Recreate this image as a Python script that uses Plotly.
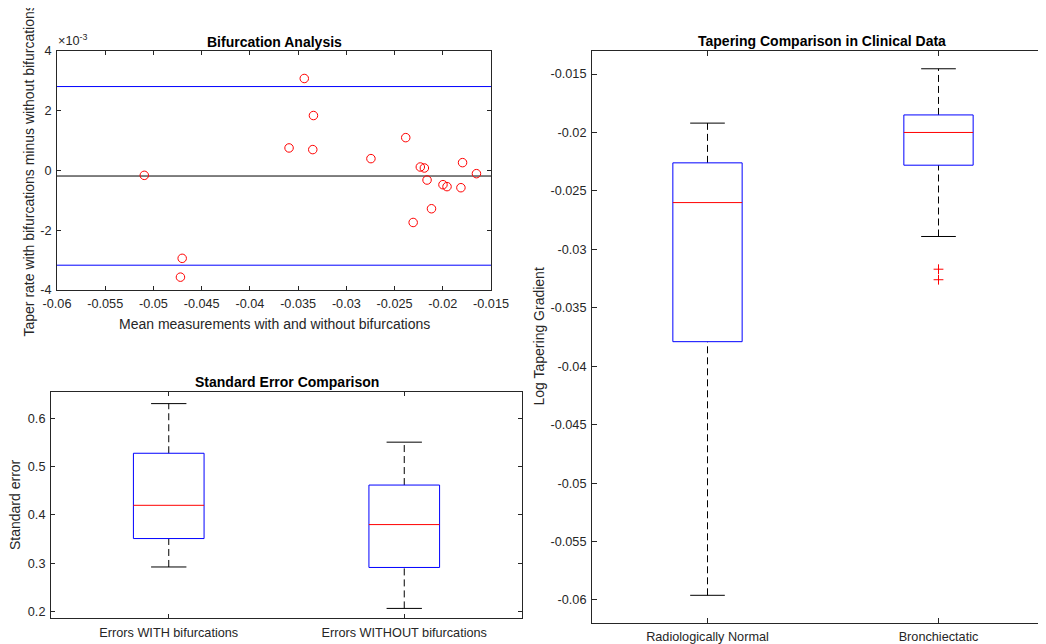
import plotly.graph_objects as go

# ---------------- data ----------------
# Bifurcation analysis (Bland-Altman style)
bif_mean = [-0.05095, -0.04702, -0.04720, -0.03594, -0.03436, -0.03341, -0.03348,
            -0.02745, -0.02384, -0.02233, -0.02191, -0.02163, -0.02307, -0.02117,
            -0.01998, -0.01956, -0.01812, -0.01795, -0.01651]
bif_diff = [-0.000162, -0.00294, -0.00357, 0.000755, 0.00308, 0.00184, 0.00070,
            0.000397, 0.00110, 0.000117, 0.000084, -0.000319, -0.00174, -0.00128,
            -0.000475, -0.00054, -0.000576, 0.000263, -0.000106]
mean_diff = -0.000185
upper_loa = 0.00281
lower_loa = -0.00317
bif_x_range = [-0.06, -0.015]
bif_y_range = [-0.004, 0.004]
bif_xtick_vals = [-0.06, -0.055, -0.05, -0.045, -0.04, -0.035, -0.03, -0.025, -0.02, -0.015]
bif_xtick_text = ["-0.06", "-0.055", "-0.05", "-0.045", "-0.04", "-0.035", "-0.03", "-0.025", "-0.02", "-0.015"]
bif_ytick_vals = [-0.004, -0.002, 0, 0.002, 0.004]
bif_ytick_text = ["-4", "-2", "0", "2", "4"]

# Standard error comparison (box plot stats)
se_categories = ["Errors WITH bifurcations", "Errors WITHOUT bifurcations"]
se_upper_whisker = [0.631, 0.551]
se_q3 = [0.528, 0.462]
se_median = [0.420, 0.380]
se_q1 = [0.351, 0.291]
se_lower_whisker = [0.292, 0.206]
se_ytick_vals = [0.2, 0.3, 0.4, 0.5, 0.6]
se_ytick_text = ["0.2", "0.3", "0.4", "0.5", "0.6"]

# Tapering comparison (box plot stats)
taper_categories = ["Radiologically Normal", "Bronchiectatic"]
taper_upper_whisker = [-0.0192, -0.01455]
taper_q3 = [-0.0226, -0.0185]
taper_median = [-0.0260, -0.0200]
taper_q1 = [-0.0379, -0.0228]
taper_lower_whisker = [-0.0596, -0.0289]
taper_outlier_group = [2, 2]
taper_outliers = [-0.0317, -0.0326]
taper_ytick_vals = [-0.06, -0.055, -0.05, -0.045, -0.04, -0.035, -0.03, -0.025, -0.02, -0.015]
taper_ytick_text = ["-0.06", "-0.055", "-0.05", "-0.045", "-0.04", "-0.035", "-0.03", "-0.025", "-0.02", "-0.015"]

# ---------------- layout helpers ----------------
PAGE_W, PAGE_H = 1046, 644
OFF = 8  # default page body margin
W, H = PAGE_W - OFF, PAGE_H - OFF
FONT = "Liberation Sans, Arial, Helvetica, sans-serif"
AX = "#262626"
TICK_FS = 12.7
LABEL_FS = 14
TITLE_FS = 14

def fx(p):
    return (p - OFF) / W

def fy(p):
    return 1 - (p - OFF) / H

fig = go.Figure()

# ---- subplot 1: scatter ----
fig.add_trace(go.Scatter(x=bif_x_range, y=[upper_loa, upper_loa], mode="lines",
                         line=dict(color="#0000FF", width=1), xaxis="x", yaxis="y", showlegend=False))
fig.add_trace(go.Scatter(x=bif_x_range, y=[lower_loa, lower_loa], mode="lines",
                         line=dict(color="#0000FF", width=1), xaxis="x", yaxis="y", showlegend=False))
fig.add_trace(go.Scatter(x=bif_x_range, y=[mean_diff, mean_diff], mode="lines",
                         line=dict(color="#000000", width=1), xaxis="x", yaxis="y", showlegend=False))
fig.add_trace(go.Scatter(x=bif_mean, y=bif_diff, mode="markers",
                         marker=dict(symbol="circle-open", size=8.5, color="#FF0000",
                                     line=dict(width=1, color="#FF0000")),
                         xaxis="x", yaxis="y", showlegend=False))

# ---- box drawing ----
BOX_HW = 0.15
CAP_HW = 0.075

def add_boxes(lower, q1, med, q3, upper, xa, ya):
    for i in range(len(med)):
        p = i + 1
        # whiskers (dashed)
        fig.add_trace(go.Scatter(x=[p, p], y=[q3[i], upper[i]], mode="lines",
                                 line=dict(color="#000000", width=1, dash="7px,4px"),
                                 xaxis=xa, yaxis=ya, showlegend=False))
        fig.add_trace(go.Scatter(x=[p, p], y=[lower[i], q1[i]], mode="lines",
                                 line=dict(color="#000000", width=1, dash="7px,4px"),
                                 xaxis=xa, yaxis=ya, showlegend=False))
        # caps
        fig.add_trace(go.Scatter(x=[p - CAP_HW, p + CAP_HW], y=[upper[i], upper[i]], mode="lines",
                                 line=dict(color="#000000", width=1),
                                 xaxis=xa, yaxis=ya, showlegend=False))
        fig.add_trace(go.Scatter(x=[p - CAP_HW, p + CAP_HW], y=[lower[i], lower[i]], mode="lines",
                                 line=dict(color="#000000", width=1),
                                 xaxis=xa, yaxis=ya, showlegend=False))
        # box
        fig.add_trace(go.Scatter(x=[p - BOX_HW, p + BOX_HW, p + BOX_HW, p - BOX_HW, p - BOX_HW],
                                 y=[q1[i], q1[i], q3[i], q3[i], q1[i]], mode="lines",
                                 line=dict(color="#0000FF", width=1),
                                 xaxis=xa, yaxis=ya, showlegend=False))
        # median
        fig.add_trace(go.Scatter(x=[p - BOX_HW, p + BOX_HW], y=[med[i], med[i]], mode="lines",
                                 line=dict(color="#FF0000", width=1),
                                 xaxis=xa, yaxis=ya, showlegend=False))

add_boxes(se_lower_whisker, se_q1, se_median, se_q3, se_upper_whisker, "x2", "y2")
add_boxes(taper_lower_whisker, taper_q1, taper_median, taper_q3, taper_upper_whisker, "x3", "y3")
fig.add_trace(go.Scatter(x=taper_outlier_group, y=taper_outliers, mode="markers",
                         marker=dict(symbol="cross-thin", size=7, color="#FF0000",
                                     line=dict(width=1, color="#FF0000")),
                         xaxis="x3", yaxis="y3", showlegend=False))

axis_common = dict(showline=True, linecolor=AX, linewidth=1, ticks="inside", tickcolor=AX,
                   tickwidth=1, showgrid=False, zeroline=False, automargin=False,
                   tickfont=dict(family=FONT, size=TICK_FS, color=AX))

fig.update_layout(
    template="none",
    width=W, height=H, margin=dict(l=0, r=0, t=0, b=0, pad=0), autosize=False,
    paper_bgcolor="white", plot_bgcolor="white", showlegend=False,
    font=dict(family=FONT, color=AX),
    xaxis=dict(domain=[fx(57), fx(491)], range=bif_x_range, tickmode="array",
               tickvals=bif_xtick_vals, ticktext=bif_xtick_text, mirror="ticks", ticklen=4,
               anchor="y", ticklabelstandoff=2, **axis_common),
    yaxis=dict(domain=[fy(290), fy(51)], range=bif_y_range, tickmode="array",
               tickvals=bif_ytick_vals, ticktext=bif_ytick_text, mirror="ticks", ticklen=4,
               anchor="x", ticklabelstandoff=2, **axis_common),
    xaxis2=dict(domain=[fx(51), fx(522)], range=[0.5, 2.5], tickmode="array",
                tickvals=[1, 2], ticktext=se_categories, mirror="ticks", ticklen=4,
                anchor="y2", ticklabelstandoff=2, **axis_common),
    yaxis2=dict(domain=[fy(618.3), fy(392.3)], range=[0.1855, 0.6545], tickmode="array",
                tickvals=se_ytick_vals, ticktext=se_ytick_text, mirror="ticks", ticklen=4,
                anchor="x2", ticklabelstandoff=2, **axis_common),
    xaxis3=dict(domain=[fx(592), 1.0], range=[0.5, 0.5 + (PAGE_W - 592) / 231.0], tickmode="array",
                tickvals=[1, 2], ticktext=taper_categories, mirror="ticks", ticklen=5,
                anchor="y3", ticklabelstandoff=2, **axis_common),
    yaxis3=dict(domain=[fy(623), fy(51)], range=[-0.06197, -0.01303], tickmode="array",
                tickvals=taper_ytick_vals, ticktext=taper_ytick_text, mirror=False, ticklen=5,
                anchor="x3", ticklabelstandoff=2, **axis_common),
)

def ann(text, x, y, size, bold=False, angle=0, xanchor="center", yanchor="middle", color=AX):
    fig.add_annotation(text=("<b>%s</b>" % text) if bold else text,
                       x=fx(x), y=fy(y), xref="paper", yref="paper",
                       xanchor=xanchor, yanchor=yanchor, showarrow=False, textangle=angle,
                       font=dict(family=FONT, size=size, color=color))

ann("Bifurcation Analysis", 274, 42, TITLE_FS, bold=True, color="#000000")
ann("Standard Error Comparison", 286.5, 382, TITLE_FS, bold=True, color="#000000")
ann("Tapering Comparison in Clinical Data", 822, 41, TITLE_FS, bold=True, color="#000000")
ann("Mean measurements with and without bifurcations", 274, 324, LABEL_FS)
ann("Taper rate with bifurcations minus without bifurcations", 28, 170.5, LABEL_FS, angle=-90)
ann("Standard error", 15, 505, LABEL_FS, angle=-90)
ann("Log Tapering Gradient", 538.5, 337, LABEL_FS, angle=-90)
ann("×10<sup>-3</sup>", 56, 50, TICK_FS, xanchor="left", yanchor="bottom")

fig.write_html("out.html")
